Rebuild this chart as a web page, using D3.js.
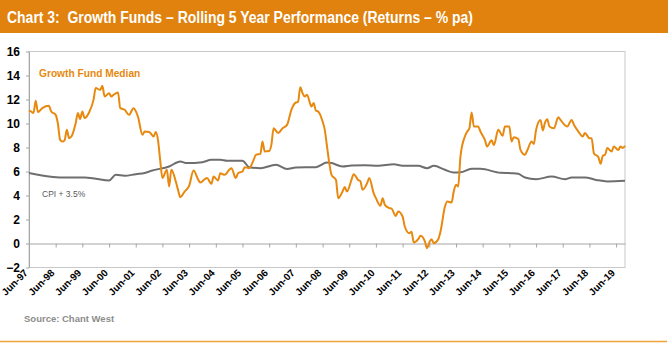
<!DOCTYPE html>
<html>
<head>
<meta charset="utf-8">
<script src="https://cdn.jsdelivr.net/npm/d3@7"></script>
<style>
  html, body { margin: 0; padding: 0; background: #fff; }
  svg { display: block; }
  text { font-family: "Liberation Sans Narrow", "Arial Narrow", "Liberation Sans", Arial, sans-serif; }
</style>
</head>
<body>
<svg id="chart" width="668" height="346"></svg>
<script>
const titleText = "Chart 3:\u00A0 Growth Funds \u2013 Rolling 5 Year Performance (Returns \u2013 % pa)";
const sourceText = "Source: Chant West";
const fundLabel = "Growth Fund Median";
const cpiLabel = "CPI + 3.5%";

const yTicks = [-2, 0, 2, 4, 6, 8, 10, 12, 14, 16];
const xTickLabels = ["Jun-97","Jun-98","Jun-99","Jun-00","Jun-01","Jun-02","Jun-03","Jun-04","Jun-05","Jun-06","Jun-07","Jun-08","Jun-09","Jun-10","Jun-11","Jun-12","Jun-13","Jun-14","Jun-15","Jun-16","Jun-17","Jun-18","Jun-19"];

const fundDates = ["1997-06","1997-07","1997-08","1997-09","1997-10","1997-12","1998-03","1998-04","1998-06","1998-07","1998-08","1998-09","1998-10","1998-11","1998-12","1999-01","1999-03","1999-04","1999-05","1999-06","1999-07","1999-09","1999-11","1999-12","2000-02","2000-03","2000-04","2000-06","2000-07","2000-08","2000-10","2000-11","2001-01","2001-03","2001-05","2001-07","2001-09","2001-10","2001-12","2002-02","2002-03","2002-04","2002-05","2002-06","2002-08","2002-09","2002-10","2002-12","2003-01","2003-02","2003-04","2003-06","2003-08","2003-10","2003-11","2004-01","2004-02","2004-04","2004-05","2004-07","2004-08","2004-10","2004-12","2005-01","2005-03","2005-04","2005-06","2005-07","2005-09","2005-11","2005-12","2006-02","2006-03","2006-04","2006-06","2006-07","2006-08","2006-10","2006-12","2007-02","2007-04","2007-06","2007-07","2007-08","2007-09","2007-10","2007-11","2008-01","2008-02","2008-03","2008-04","2008-06","2008-07","2008-08","2008-09","2008-10","2008-12","2009-01","2009-03","2009-04","2009-05","2009-07","2009-08","2009-10","2009-11","2009-12","2010-02","2010-03","2010-05","2010-06","2010-08","2010-09","2010-10","2010-12","2011-01","2011-03","2011-04","2011-06","2011-07","2011-09","2011-10","2011-11","2012-01","2012-02","2012-04","2012-05","2012-06","2012-07","2012-08","2012-10","2012-11","2013-01","2013-02","2013-04","2013-05","2013-06","2013-07","2013-08","2013-10","2013-11","2013-12","2014-01","2014-02","2014-04","2014-05","2014-07","2014-08","2014-10","2014-11","2015-01","2015-03","2015-04","2015-06","2015-07","2015-08","2015-10","2015-11","2016-01","2016-02","2016-04","2016-05","2016-06","2016-08","2016-09","2016-10","2016-11","2016-12","2017-02","2017-04","2017-05","2017-08","2017-10","2017-11","2018-01","2018-03","2018-04","2018-06","2018-07","2018-08","2018-10","2018-11","2018-12","2019-01","2019-02","2019-04","2019-05","2019-07","2019-08","2019-09","2019-10"];
const fundValues = [11.1,11.0,10.87,11.9,10.95,11.28,11.47,11.0,10.72,10.0,8.64,8.5,8.6,9.47,8.78,8.9,10.0,10.87,10.37,11.0,10.45,10.92,11.97,12.95,12.8,13.14,12.25,12.53,12.25,12.39,12.58,11.28,11.14,10.72,11.28,10.58,9.06,9.33,9.3,8.92,9.3,8.64,6.97,5.45,6.14,4.75,6.14,5.17,4.47,3.86,4.33,4.8,6.08,5.36,5.08,5.36,5.45,4.97,5.58,5.25,5.86,5.72,6.14,6.28,5.45,5.86,6.0,6.36,6.28,6.97,7.39,7.47,8.5,7.67,7.7,8.22,9.61,9.2,9.61,9.89,11.14,11.75,11.8,13.03,12.53,12.25,12.39,11.42,11.7,11.08,11.0,10.17,9.47,8.08,6.7,5.72,5.3,3.78,4.33,4.7,4.33,5.3,5.78,5.3,5.17,4.47,5.03,5.45,4.2,3.78,3.14,3.78,3.22,2.95,2.9,2.3,2.67,2.25,1.42,0.86,0.97,0.08,0.36,0.64,0.17,-0.39,0.08,0.36,0.03,0.36,1.0,3.08,3.5,3.42,4.33,4.89,4.75,7.25,8.92,9.33,9.6,10.92,9.75,9.75,9.33,8.64,8.08,8.6,8.2,9.47,8.97,9.75,9.75,8.5,8.86,8.7,7.8,7.39,7.75,8.5,8.3,9.47,10.3,9.42,10.08,10.36,9.75,9.6,10.53,10.3,9.75,10.3,9.9,9.33,8.92,9.2,8.78,8.78,7.53,7.2,6.64,7.31,7.39,7.95,7.67,8.08,7.8,8.08,7.95,8.14];

const cpiDates = ["1997-06","1998-03","1998-09","1999-07","1999-12","2000-06","2000-09","2001-01","2001-06","2001-10","2002-01","2002-09","2003-02","2003-05","2003-12","2004-04","2004-08","2004-11","2005-06","2005-09","2006-02","2006-09","2007-02","2007-06","2008-03","2008-08","2008-10","2009-03","2009-07","2010-01","2010-07","2011-02","2011-06","2012-01","2012-05","2012-08","2013-01","2013-05","2013-08","2014-01","2014-05","2015-02","2015-07","2015-10","2016-01","2016-06","2017-01","2017-07","2017-10","2018-04","2018-09","2019-02","2019-10"];
const cpiValues = [5.87,5.58,5.5,5.5,5.4,5.25,5.72,5.64,5.78,5.87,6.06,6.42,6.83,6.7,6.78,6.97,6.97,6.89,6.89,6.36,6.28,6.56,6.2,6.33,6.36,6.75,6.7,6.42,6.5,6.53,6.47,6.6,6.47,6.47,6.28,6.47,6.14,5.92,5.94,6.22,6.22,5.89,5.86,5.81,5.5,5.36,5.58,5.36,5.5,5.5,5.3,5.17,5.22];

const parseMonth = d3.timeParse("%Y-%m");
const parseLabel = d3.timeParse("%b-%y");

const fund = fundDates.map((d, i) => ({ date: parseMonth(d), value: fundValues[i] }));
const cpi = cpiDates.map((d, i) => ({ date: parseMonth(d), value: cpiValues[i] }));

const svg = d3.select("#chart");

const plot = { left: 29, right: 625, top: 51.5, bottom: 267.5 };

const x = d3.scaleTime()
  .domain([parseMonth("1997-06"), parseMonth("2019-10")])
  .range([plot.left, plot.right]);
const y = d3.scaleLinear()
  .domain([-2, 16])
  .range([plot.bottom, plot.top]);

// header bar
svg.append("rect").attr("x", 0).attr("y", 0).attr("width", 668).attr("height", 33)
  .attr("fill", "#E0820D");
svg.append("text")
  .attr("x", 7).attr("y", 23)
  .attr("fill", "#ffffff")
  .attr("font-size", 16).attr("font-weight", "bold")
  .attr("textLength", 466).attr("lengthAdjust", "spacingAndGlyphs")
  .text(titleText);

// plot border
svg.append("rect")
  .attr("x", plot.left).attr("y", plot.top)
  .attr("width", plot.right - plot.left).attr("height", plot.bottom - plot.top)
  .attr("fill", "none").attr("stroke", "#C8C8C8").attr("stroke-width", 1);

// y axis
const yAxis = d3.axisLeft(y).tickValues(yTicks).tickSizeInner(3).tickSizeOuter(0).tickPadding(6);
const gy = svg.append("g").attr("transform", `translate(${plot.left},0)`).call(yAxis);
gy.select(".domain").attr("stroke", "#A6A6A6");
gy.selectAll(".tick line").attr("stroke", "#A6A6A6");
gy.selectAll(".tick text")
  .attr("font-size", 12).attr("font-weight", "bold").attr("fill", "#000")
  .style("font-family", '"Liberation Sans Narrow", "Arial Narrow", "Liberation Sans", Arial, sans-serif');

// x axis at zero
const tickDates = xTickLabels.map(parseLabel);
const xAxis = d3.axisBottom(x).tickValues(tickDates).tickSizeInner(4).tickSizeOuter(0).tickFormat("");
const gx = svg.append("g").attr("transform", `translate(0,${y(0)})`).call(xAxis);
gx.select(".domain").attr("stroke", "#A6A6A6");
gx.selectAll(".tick line").attr("stroke", "#A6A6A6");

// x labels at bottom
svg.append("g").selectAll("text")
  .data(xTickLabels)
  .join("text")
  .attr("transform", d => `translate(${x(parseLabel(d)) - 0.5},${plot.bottom + 6}) rotate(-45)`)
  .attr("text-anchor", "end")
  .attr("font-size", 10).attr("font-weight", "bold").attr("fill", "#000")
  .text(d => d);

// lines
const line = d3.line().x(d => x(d.date)).y(d => y(d.value)).curve(d3.curveMonotoneX);

svg.append("path").datum(cpi)
  .attr("d", line)
  .attr("fill", "none").attr("stroke", "#6E6E6E").attr("stroke-width", 2);

svg.append("path").datum(fund)
  .attr("d", line)
  .attr("fill", "none").attr("stroke", "#E8890F").attr("stroke-width", 2);

// series labels
svg.append("text")
  .attr("x", 39).attr("y", 77)
  .attr("fill", "#E8890F").attr("font-size", 10.2).attr("font-weight", "bold")
  .text(fundLabel);
svg.append("text")
  .attr("x", 42).attr("y", 197)
  .attr("fill", "#595959").attr("font-size", 8.5)
  .text(cpiLabel);

// source
svg.append("text")
  .attr("x", 24).attr("y", 322)
  .attr("fill", "#8C8C8C").attr("font-size", 9.5).attr("font-weight", "bold")
  .text(sourceText);

// bottom rule
svg.append("line")
  .attr("x1", 0).attr("x2", 667).attr("y1", 341.5).attr("y2", 341.5)
  .attr("stroke", "#F0A23A").attr("stroke-width", 1.5);
</script>
</body>
</html>
